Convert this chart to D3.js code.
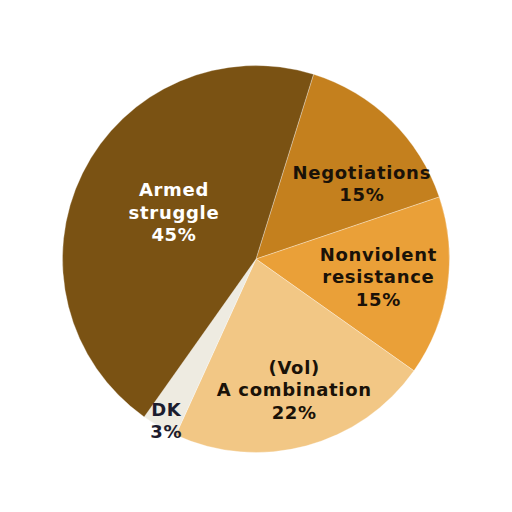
<!DOCTYPE html>
<html lang="en">
<head>
<meta charset="utf-8">
<title>Pie chart</title>
<script src="https://cdn.jsdelivr.net/npm/d3@7"></script>
<style>
  body { margin: 0; background: #fff; }
</style>
</head>
<body>
<div id="chart"></div>
<script>
// data, clockwise starting near the top
var categories = ["Negotiations", "Nonviolent resistance", "(Vol) A combination", "DK", "Armed struggle"];
var values = [15, 15, 22, 3, 45];
var labelLines = [
  ["Negotiations", "15%"],
  ["Nonviolent", "resistance", "15%"],
  ["(Vol)", "A combination", "22%"],
  ["DK", "3%"],
  ["Armed", "struggle", "45%"]
];
var colors = ["#c4801e", "#eaa038", "#f2c785", "#eeebe1", "#7a5213"];
var textColors = ["#1a1208", "#1a1208", "#1a1208", "#1c1c2e", "#ffffff"];

var w = 512, h = 512;
var cx = 256, cy = 259, r = 193.5;

var svg = d3.select("#chart").append("svg")
  .attr("width", w)
  .attr("height", h);

var g = svg.append("g").attr("transform", "translate(" + cx + "," + cy + ")");

var startOffset = 17.3 * Math.PI / 180;
var pie = d3.pie()
  .sort(null)
  .value(function(d) { return d; })
  .startAngle(startOffset)
  .endAngle(startOffset + 2 * Math.PI);

var arc = d3.arc().innerRadius(0).outerRadius(r);
var arcs = pie(values);

g.selectAll("path")
  .data(arcs)
  .enter()
  .append("path")
  .attr("d", arc)
  .attr("fill", function(d, i) { return colors[i]; })
  .attr("stroke", "#fff")
  .attr("stroke-opacity", 0.45)
  .attr("stroke-width", 0.7);

// label anchor positions: radius fraction and nudge per slice
var labelR = [0.62, 0.66, 0.58, 0.93, 0.47];
var labelShift = [[22, 11], [-4, 0], [9, 23], [0, 6], [-0.5, -6]];
var lineH = 22.6;

var labels = g.selectAll("text.lbl")
  .data(arcs)
  .enter()
  .append("text")
  .attr("class", "lbl")
  .attr("text-anchor", "middle")
  .attr("font-family", "'DejaVu Sans', Verdana, sans-serif")
  .attr("font-weight", "bold")
  .attr("font-size", 18)
  .attr("letter-spacing", 0.7)
  .attr("fill", function(d, i) { return textColors[i]; })
  .attr("transform", function(d, i) {
    var c = d3.arc().innerRadius(0).outerRadius(r * labelR[i] * 2).centroid(d);
    return "translate(" + (c[0] + labelShift[i][0]) + "," + (c[1] + labelShift[i][1]) + ")";
  });

labels.each(function(d, i) {
  var lines = labelLines[i];
  var t = d3.select(this);
  lines.forEach(function(line, j) {
    t.append("tspan")
      .attr("x", 0)
      .attr("y", (j - (lines.length - 1) / 2) * lineH + 6)
      .text(line);
  });
});
</script>
</body>
</html>
